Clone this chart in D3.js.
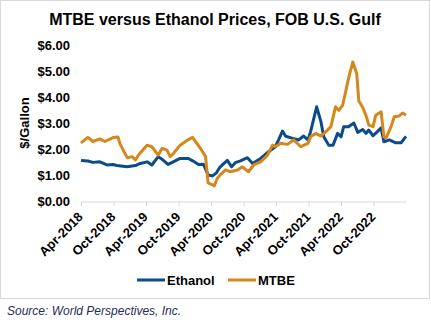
<!DOCTYPE html>
<html>
<head>
<meta charset="utf-8">
<script src="https://cdn.jsdelivr.net/npm/d3@7"></script>
<style>
  body { margin: 0; background: #fff; }
  svg { font-family: Arial, "Liberation Sans", sans-serif; }
</style>
</head>
<body>
<div id="chart"></div>
<script>
const colors = {
  ethanol: "#0b4a8b",
  mtbe: "#d4881c",
  text: "#000000",
  axis: "#d9d9d9",
  source: "#1f2d5a"
};

// data ($/gallon)
const ethanolDates = [
  "2018-04-01", "2018-05-10", "2018-06-07", "2018-07-16", "2018-08-25", "2018-09-28",
  "2018-10-20", "2018-12-16", "2019-02-01", "2019-02-28", "2019-04-07", "2019-05-04",
  "2019-06-09", "2019-07-06", "2019-08-03", "2019-09-01", "2019-10-10", "2019-11-25",
  "2019-12-22", "2020-01-21", "2020-02-18", "2020-03-15", "2020-04-09", "2020-05-01",
  "2020-05-22", "2020-07-01", "2020-07-25", "2020-08-15", "2020-09-13", "2020-10-22",
  "2020-11-20", "2021-01-04", "2021-02-18", "2021-03-28", "2021-04-15", "2021-05-07",
  "2021-05-25", "2021-07-04", "2021-08-06", "2021-09-03", "2021-09-27", "2021-10-12",
  "2021-11-15", "2021-12-09", "2021-12-25", "2022-01-22", "2022-02-15", "2022-03-13",
  "2022-04-01", "2022-04-16", "2022-05-13", "2022-06-12", "2022-07-04", "2022-08-01",
  "2022-08-19", "2022-09-04", "2022-09-28", "2022-10-25", "2022-11-12", "2022-11-28",
  "2022-12-28", "2023-02-03", "2023-03-04", "2023-04-01"
];
const ethanol = [
  1.57, 1.55, 1.50, 1.52, 1.40, 1.42,
  1.38, 1.33, 1.38, 1.46, 1.52, 1.40,
  1.72, 1.59, 1.42, 1.52, 1.65, 1.65,
  1.55, 1.42, 1.43, 1.02, 0.98, 1.10,
  1.33, 1.58, 1.33, 1.49, 1.56, 1.68,
  1.46, 1.65, 1.91, 2.10, 2.36, 2.70,
  2.50, 2.42, 2.36, 2.51, 2.36, 2.68,
  3.63, 3.06, 2.48, 2.16, 2.16, 2.61,
  2.48, 2.87, 2.87, 3.01, 2.65, 2.76,
  2.61, 2.74, 2.52, 2.70, 2.82, 2.29,
  2.36, 2.25, 2.25, 2.50
];

const mtbeDates = [
  "2018-04-01", "2018-05-10", "2018-06-07", "2018-07-16", "2018-08-13", "2018-09-28",
  "2018-10-26", "2018-11-07", "2018-12-16", "2019-01-13", "2019-02-01", "2019-02-18",
  "2019-04-07", "2019-05-04", "2019-06-09", "2019-07-01", "2019-07-28", "2019-08-15",
  "2019-09-01", "2019-10-10", "2019-11-19", "2019-12-19", "2020-01-04", "2020-02-01",
  "2020-03-01", "2020-03-15", "2020-04-09", "2020-04-19", "2020-05-06", "2020-05-22",
  "2020-06-21", "2020-07-18", "2020-08-27", "2020-09-24", "2020-10-28", "2020-11-26",
  "2021-01-04", "2021-02-12", "2021-03-12", "2021-03-28", "2021-04-27", "2021-06-04",
  "2021-07-09", "2021-08-18", "2021-09-27", "2021-10-12", "2021-11-09", "2021-12-09",
  "2022-01-06", "2022-02-03", "2022-03-01", "2022-03-19", "2022-04-10", "2022-04-27",
  "2022-05-13", "2022-06-06", "2022-06-28", "2022-07-10", "2022-08-01", "2022-08-19",
  "2022-09-04", "2022-09-28", "2022-10-13", "2022-11-12", "2022-11-28", "2022-12-09",
  "2023-01-07", "2023-01-25", "2023-02-22", "2023-03-13", "2023-04-01"
];
const mtbe = [
  2.25, 2.46, 2.30, 2.40, 2.30, 2.45,
  2.47, 2.20, 1.68, 1.72, 1.59, 1.78,
  2.16, 2.10, 1.78, 2.04, 1.97, 1.72,
  1.83, 2.16, 2.35, 2.46, 2.30, 2.04,
  1.72, 0.71, 0.64, 0.60, 0.89, 1.02,
  1.21, 1.14, 1.21, 1.33, 1.14, 1.40,
  1.52, 1.78, 2.16, 2.10, 2.23, 2.19,
  2.36, 2.10, 2.23, 2.48, 2.61, 2.51,
  2.68, 2.87, 3.63, 3.50, 3.69, 4.21,
  4.72, 5.35, 4.91, 3.85, 3.60, 3.30,
  2.93, 2.87, 3.31, 3.44, 2.48, 2.42,
  2.87, 3.25, 3.28, 3.39, 3.31
];

const yTicks = [0, 1, 2, 3, 4, 5, 6];
const xTicks = [
  "2018-04-01", "2018-10-01", "2019-04-01", "2019-10-01", "2020-04-01",
  "2020-10-01", "2021-04-01", "2021-10-01", "2022-04-01", "2022-10-01"
];
const xDomain = ["2018-04-01", "2023-04-01"];

const parse = d3.timeParse("%Y-%m-%d");
const series = [
  { name: "Ethanol", color: colors.ethanol,
    values: ethanolDates.map((d, i) => ({ date: parse(d), v: ethanol[i] })) },
  { name: "MTBE", color: colors.mtbe,
    values: mtbeDates.map((d, i) => ({ date: parse(d), v: mtbe[i] })) }
];

// dimensions
const W = 431, H = 322;
const margin = { top: 45, right: 25, bottom: 120, left: 81 };
const width = 406 - margin.left;
const height = 201.5 - margin.top;

const svg = d3.select("#chart")
  .append("svg")
  .attr("width", W)
  .attr("height", H);

// chart frame
svg.append("rect")
  .attr("x", 0.5).attr("y", 0.5)
  .attr("width", 429).attr("height", 298)
  .attr("fill", "#fff")
  .attr("stroke", colors.axis);

svg.append("text")
  .attr("x", 215)
  .attr("y", 25)
  .attr("text-anchor", "middle")
  .style("font-size", "16px")
  .style("font-weight", "bold")
  .text("MTBE versus Ethanol Prices, FOB U.S. Gulf");

const g = svg.append("g")
  .attr("transform", `translate(${margin.left},${margin.top})`);

const x = d3.scaleTime()
  .domain(xDomain.map(parse))
  .range([0, width]);

const y = d3.scaleLinear()
  .domain([0, 6])
  .range([height, 0]);

// y axis (labels only)
g.append("g")
  .call(d3.axisLeft(y).tickValues(yTicks).tickFormat(d3.format("$.2f")).tickSize(0).tickPadding(11))
  .call(a => a.select(".domain").remove())
  .call(a => a.selectAll("text")
    .attr("fill", colors.text)
    .style("font-size", "13px")
    .style("font-weight", "bold")
    .style("font-family", "Arial, 'Liberation Sans', sans-serif"));

// x axis
g.append("g")
  .attr("transform", `translate(0,${height})`)
  .call(d3.axisBottom(x).tickValues(xTicks.map(parse)).tickFormat(d3.timeFormat("%b-%Y")).tickSizeInner(5).tickSizeOuter(0))
  .call(a => a.select(".domain").attr("stroke", colors.axis))
  .call(a => a.selectAll(".tick line").attr("stroke", colors.axis))
  .call(a => a.selectAll("text")
    .attr("fill", colors.text)
    .style("font-size", "13px")
    .style("font-weight", "bold")
    .style("font-family", "Arial, 'Liberation Sans', sans-serif")
    .attr("text-anchor", "end")
    .attr("x", 0)
    .attr("y", 0)
    .attr("dx", 0)
    .attr("dy", "0.35em")
    .attr("transform", "translate(-1,13) rotate(-45)"));

// y title
svg.append("text")
  .attr("transform", "translate(29,123) rotate(-90)")
  .attr("text-anchor", "middle")
  .style("font-size", "13px")
  .style("font-weight", "bold")
  .text("$/Gallon");

// lines
const line = d3.line()
  .x(d => x(d.date))
  .y(d => y(d.v));

g.selectAll(".series")
  .data(series)
  .enter()
  .append("path")
  .attr("class", "series")
  .attr("d", d => line(d.values))
  .attr("fill", "none")
  .attr("stroke", d => d.color)
  .attr("stroke-width", 3)
  .attr("stroke-linejoin", "round");

// legend
const legendX = [137, 228];
const legend = svg.selectAll(".legend")
  .data(series)
  .enter()
  .append("g")
  .attr("class", "legend")
  .attr("transform", (d, i) => `translate(${legendX[i]},280)`);

legend.append("line")
  .attr("x1", 0).attr("x2", 28)
  .attr("stroke", d => d.color)
  .attr("stroke-width", 3);

legend.append("text")
  .attr("x", 30)
  .attr("dy", "0.36em")
  .style("font-size", "13px")
  .style("font-weight", "bold")
  .text(d => d.name);

// source
svg.append("text")
  .attr("x", 7)
  .attr("y", 315)
  .attr("fill", colors.source)
  .style("font-size", "12px")
  .style("font-style", "italic")
  .text("Source: World Perspectives, Inc.");
</script>
</body>
</html>
